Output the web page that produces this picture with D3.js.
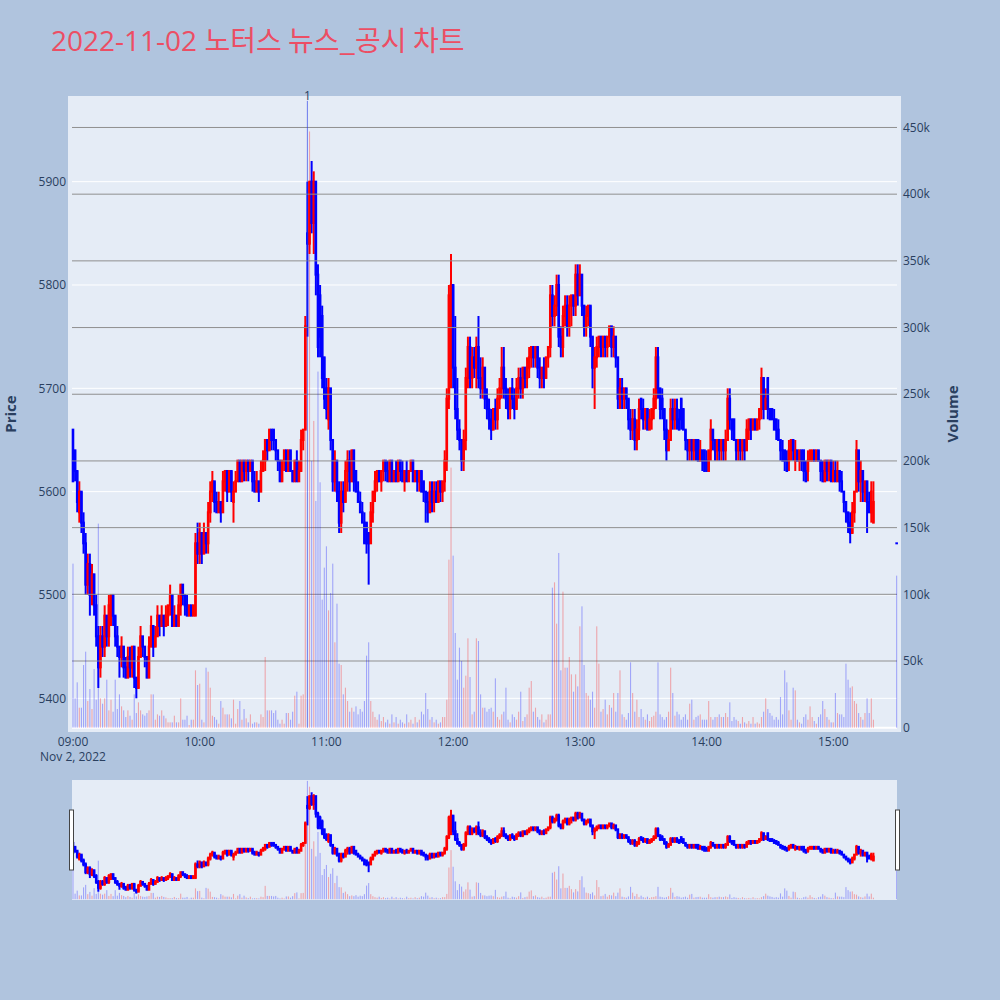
<!DOCTYPE html>
<html><head><meta charset="utf-8">
<script src="https://cdn.jsdelivr.net/npm/d3@7"></script>
<style>body{margin:0;background:#b0c4de;}svg{display:block;}</style>
</head><body>
<svg id="chart" width="1000" height="1000"></svg>
<script>
// ---- data: 1-minute candles 09:00 .. 15:19, plus 15:30 closing auction ----
const openPrices = [
5660,5640,5620,5580,5600,5570,5550,5510,5530,5500,
5520,5490,5460,5430,5460,5450,5480,5460,5490,5500,
5480,5460,5450,5440,5450,5430,5420,5440,5430,5450,
5420,5410,5440,5460,5450,5440,5420,5450,5470,5450,
5460,5480,5470,5480,5470,5480,5490,5500,5470,5480,
5470,5490,5510,5500,5490,5480,5490,5480,5480,5550,
5540,5560,5540,5560,5550,5580,5600,5610,5590,5580,
5590,5580,5610,5620,5600,5620,5590,5600,5610,5630,
5610,5630,5620,5630,5620,5630,5610,5600,5610,5600,
5620,5630,5650,5640,5660,5660,5650,5640,5630,5610,
5630,5640,5620,5640,5620,5610,5630,5610,5620,5650,
5660,5850,5840,5900,5860,5900,5810,5790,5770,5730,
5700,5670,5700,5650,5610,5630,5600,5570,5600,5590,
5620,5630,5610,5640,5620,5600,5590,5580,5570,5570,
5560,5550,5580,5600,5610,5620,5610,5620,5630,5620,
5610,5630,5610,5620,5610,5630,5620,5610,5620,5610,
5620,5630,5610,5620,5610,5620,5610,5600,5590,5580,
5600,5590,5600,5590,5610,5600,5610,5630,5690,5720,
5800,5720,5680,5660,5650,5630,5650,5710,5740,5710,
5730,5720,5740,5710,5700,5720,5690,5680,5670,5660,
5680,5670,5690,5700,5720,5700,5690,5680,5700,5690,
5680,5700,5710,5700,5720,5710,5720,5730,5740,5730,
5740,5720,5710,5720,5710,5730,5740,5790,5770,5780,
5800,5750,5740,5770,5780,5760,5780,5790,5780,5810,
5790,5810,5780,5760,5770,5780,5750,5720,5730,5740,
5750,5740,5750,5740,5750,5760,5740,5750,5730,5690,
5700,5690,5700,5690,5670,5660,5670,5650,5660,5690,
5680,5670,5680,5660,5670,5680,5690,5730,5700,5690,
5680,5660,5640,5650,5680,5670,5680,5670,5690,5680,
5660,5650,5640,5650,5640,5650,5650,5630,5640,5640,
5630,5620,5640,5660,5650,5640,5650,5640,5650,5640,
5650,5690,5670,5670,5650,5640,5650,5640,5650,5640,
5660,5670,5660,5670,5660,5670,5680,5710,5680,5710,
5680,5680,5670,5670,5660,5650,5640,5640,5630,5630,
5640,5650,5630,5640,5630,5640,5640,5620,5620,5630,
5630,5640,5630,5640,5630,5620,5610,5630,5620,5630,
5610,5620,5610,5620,5610,5600,5590,5580,5570,5560,
5580,5600,5640,5610,5620,5600,5610,5590,5580,5570,
5550];
const highPrices = [
5660,5640,5620,5610,5600,5580,5560,5540,5540,5530,
5520,5500,5470,5470,5470,5490,5480,5500,5500,5500,
5480,5470,5450,5460,5450,5440,5450,5450,5450,5450,
5420,5450,5470,5460,5450,5440,5460,5480,5470,5470,
5490,5480,5490,5480,5490,5490,5510,5500,5490,5480,
5500,5510,5510,5500,5500,5490,5490,5490,5560,5570,
5570,5560,5570,5560,5590,5610,5620,5610,5600,5600,
5590,5620,5620,5620,5620,5620,5610,5620,5630,5630,
5630,5630,5630,5630,5630,5630,5620,5620,5610,5630,
5640,5650,5650,5660,5660,5660,5650,5640,5630,5630,
5640,5640,5640,5640,5620,5630,5640,5630,5660,5660,
5770,5900,5900,5920,5910,5900,5820,5800,5780,5730,
5710,5710,5700,5650,5640,5630,5610,5610,5610,5630,
5640,5640,5640,5640,5620,5610,5600,5590,5580,5570,
5560,5590,5600,5620,5620,5620,5620,5630,5630,5630,
5630,5630,5620,5630,5630,5630,5630,5620,5630,5620,
5630,5630,5620,5620,5620,5620,5610,5600,5600,5610,
5610,5610,5610,5610,5610,5610,5640,5700,5800,5830,
5800,5770,5710,5670,5650,5660,5720,5750,5750,5740,
5740,5750,5770,5730,5730,5720,5700,5690,5680,5680,
5690,5700,5710,5740,5740,5710,5700,5700,5710,5700,
5710,5720,5720,5720,5720,5730,5740,5740,5740,5740,
5740,5730,5720,5730,5730,5740,5800,5800,5790,5810,
5810,5760,5780,5790,5790,5790,5790,5790,5820,5820,
5820,5810,5780,5780,5780,5780,5750,5740,5750,5750,
5750,5750,5750,5750,5760,5760,5760,5750,5730,5710,
5710,5700,5700,5690,5680,5680,5680,5670,5690,5690,
5690,5680,5680,5680,5680,5700,5740,5740,5700,5700,
5680,5670,5660,5690,5690,5690,5690,5680,5690,5680,
5660,5650,5650,5650,5650,5650,5650,5650,5640,5640,
5640,5640,5670,5660,5650,5650,5650,5650,5650,5660,
5700,5700,5670,5670,5650,5650,5650,5650,5650,5670,
5670,5670,5670,5670,5670,5680,5720,5710,5700,5710,
5680,5680,5680,5670,5670,5650,5650,5640,5640,5650,
5650,5650,5650,5640,5640,5640,5640,5630,5640,5640,
5640,5640,5640,5640,5630,5630,5630,5630,5630,5630,
5630,5630,5630,5620,5620,5600,5590,5580,5580,5590,
5600,5650,5640,5630,5620,5610,5610,5600,5610,5610,
5550];
const lowPrices = [
5610,5610,5580,5570,5560,5540,5500,5500,5480,5490,
5480,5450,5410,5420,5440,5440,5450,5450,5470,5470,
5450,5440,5420,5430,5420,5420,5420,5420,5420,5410,
5400,5410,5440,5440,5430,5420,5420,5450,5440,5450,
5460,5460,5470,5460,5470,5470,5480,5470,5470,5470,
5470,5480,5490,5480,5480,5480,5480,5480,5480,5530,
5530,5530,5540,5540,5540,5570,5590,5580,5580,5580,
5570,5580,5600,5590,5600,5590,5570,5600,5610,5610,
5610,5610,5610,5610,5620,5600,5600,5600,5590,5600,
5620,5620,5630,5640,5640,5640,5630,5620,5610,5610,
5620,5620,5620,5620,5610,5610,5610,5610,5620,5640,
5660,5750,5830,5850,5830,5790,5730,5730,5700,5680,
5670,5660,5640,5600,5600,5590,5560,5560,5580,5590,
5600,5600,5610,5600,5600,5590,5580,5570,5550,5540,
5510,5550,5570,5590,5600,5610,5600,5610,5610,5610,
5610,5610,5610,5610,5610,5610,5610,5600,5610,5610,
5620,5610,5610,5600,5600,5600,5590,5570,5570,5580,
5580,5580,5590,5590,5590,5590,5600,5620,5680,5700,
5700,5670,5650,5640,5620,5620,5640,5700,5700,5700,
5710,5700,5700,5690,5690,5680,5670,5660,5650,5660,
5660,5660,5680,5690,5690,5680,5670,5670,5680,5670,
5680,5690,5690,5690,5700,5700,5710,5720,5720,5720,
5710,5700,5700,5700,5710,5720,5730,5760,5760,5770,
5740,5730,5730,5760,5750,5750,5760,5770,5770,5780,
5790,5770,5750,5750,5760,5740,5700,5680,5720,5730,
5730,5730,5730,5730,5740,5730,5730,5720,5680,5680,
5680,5680,5680,5660,5650,5650,5640,5640,5650,5670,
5660,5660,5660,5660,5660,5670,5680,5690,5670,5670,
5650,5630,5640,5650,5660,5660,5660,5660,5660,5660,
5640,5630,5630,5630,5630,5630,5630,5630,5620,5620,
5620,5620,5630,5640,5630,5630,5630,5630,5630,5630,
5650,5660,5650,5650,5630,5630,5630,5630,5630,5640,
5650,5650,5660,5660,5660,5660,5670,5670,5680,5670,
5670,5670,5660,5650,5650,5630,5630,5620,5620,5620,
5630,5630,5620,5630,5620,5620,5610,5610,5610,5630,
5630,5630,5630,5630,5610,5610,5610,5610,5610,5610,
5610,5610,5610,5600,5600,5580,5570,5560,5550,5560,
5570,5600,5600,5590,5590,5590,5560,5580,5570,5570,
5550];
const closePrices = [
5610,5620,5590,5600,5570,5550,5510,5530,5500,5520,
5490,5460,5430,5460,5450,5480,5460,5490,5500,5480,
5460,5450,5440,5450,5430,5420,5440,5430,5450,5420,
5410,5440,5460,5450,5440,5420,5450,5470,5450,5460,
5480,5470,5480,5470,5480,5490,5500,5470,5480,5470,
5490,5510,5500,5490,5480,5490,5480,5490,5550,5540,
5560,5540,5560,5550,5580,5600,5610,5590,5580,5590,
5580,5610,5620,5600,5620,5600,5600,5610,5630,5610,
5630,5620,5630,5620,5630,5610,5600,5610,5600,5620,
5630,5650,5640,5660,5650,5650,5640,5630,5610,5630,
5640,5620,5640,5620,5610,5630,5610,5620,5650,5660,
5760,5840,5900,5860,5900,5810,5740,5750,5710,5690,
5680,5700,5650,5610,5630,5600,5570,5600,5590,5620,
5630,5610,5640,5610,5600,5590,5580,5570,5550,5550,
5550,5580,5600,5610,5620,5610,5620,5630,5620,5610,
5630,5610,5620,5610,5630,5620,5610,5620,5610,5620,
5630,5610,5620,5610,5620,5600,5600,5590,5580,5600,
5590,5600,5590,5610,5600,5610,5630,5690,5790,5800,
5720,5680,5660,5650,5630,5650,5710,5740,5710,5730,
5720,5740,5710,5700,5720,5690,5680,5670,5660,5680,
5670,5690,5700,5720,5700,5690,5680,5700,5690,5680,
5700,5710,5700,5720,5710,5720,5730,5740,5730,5740,
5720,5710,5720,5710,5730,5740,5790,5770,5780,5800,
5750,5740,5770,5780,5760,5780,5790,5780,5810,5790,
5810,5780,5760,5770,5780,5750,5720,5730,5740,5750,
5740,5750,5740,5750,5760,5740,5750,5730,5690,5700,
5690,5700,5690,5670,5660,5670,5650,5660,5680,5680,
5670,5680,5660,5670,5680,5690,5730,5700,5680,5680,
5660,5640,5650,5680,5670,5680,5670,5660,5670,5660,
5650,5640,5650,5640,5650,5640,5630,5640,5630,5620,
5620,5640,5660,5650,5640,5650,5640,5650,5640,5650,
5690,5670,5660,5650,5640,5650,5640,5650,5640,5660,
5670,5660,5670,5660,5670,5680,5710,5680,5690,5680,
5670,5670,5660,5660,5650,5640,5630,5630,5620,5640,
5650,5640,5640,5630,5640,5630,5620,5610,5630,5640,
5640,5630,5640,5630,5620,5610,5630,5620,5630,5610,
5620,5610,5620,5610,5600,5590,5580,5570,5560,5580,
5600,5640,5610,5620,5600,5610,5590,5580,5600,5590,
5550];
// volume in thousands of shares
const volumesK = [
123,22,34,15,15,47,57,20,29,14,
44,21,153,22,18,22,36,13,21,12,
36,14,25,16,13,8,13,9,6,25,
11,19,13,10,9,11,13,25,25,6,
10,9,13,9,7,4,4,4,9,4,
4,22,6,6,9,2,6,6,43,32,
33,6,4,45,42,30,9,8,6,3,
20,15,10,10,10,7,21,3,14,20,
6,14,7,4,10,3,4,4,3,10,
8,53,13,13,13,11,13,6,3,6,
3,11,11,6,12,24,27,3,24,25,
295,470,447,200,230,170,267,184,96,120,
136,88,101,123,64,93,48,47,25,30,
20,12,15,12,16,10,14,12,20,54,
64,20,12,8,6,10,5,8,4,6,
3,10,4,8,3,6,4,3,10,4,
6,3,8,4,6,12,10,26,14,6,
8,4,6,3,4,8,8,21,126,195,
129,71,36,60,50,30,39,67,38,10,
12,67,65,25,15,15,12,14,15,12,
37,8,6,10,12,30,6,4,10,8,
6,12,27,5,8,10,30,35,12,15,
8,6,10,4,6,10,10,105,109,78,
131,43,102,45,45,53,40,27,40,31,
76,91,47,26,24,21,27,15,76,48,
12,14,21,10,17,15,26,12,26,43,
10,8,6,11,49,26,12,21,8,14,
8,6,10,5,8,9,12,49,10,8,
6,8,12,45,26,9,12,10,6,8,
10,6,18,21,6,8,9,10,6,6,
6,20,8,6,8,8,10,8,8,11,
8,19,5,8,6,5,3,8,4,3,
5,3,8,3,4,3,8,12,22,14,
11,9,6,8,6,23,10,43,34,13,
6,30,28,6,4,3,8,10,6,16,
8,5,3,8,10,20,14,8,6,4,
4,26,11,10,10,8,48,36,30,31,
20,18,11,8,6,11,22,11,22,6,
114];
const priceTicks = [5400,5500,5600,5700,5800,5900];
const volumeTicks = [0,50000,100000,150000,200000,250000,300000,350000,400000,450000];
const hourTicks = ["09:00","10:00","11:00","12:00","13:00","14:00","15:00"];
const newsMarkers = [{time:"10:51", label:"1"}];
const titleDate = "2022-11-02 ";
const titleText = "노터스 뉴스_공시 차트";

// time categories
const sessionStart = new Date(2022,10,2,9,0);
const times = d3.range(380).map(i => d3.timeMinute.offset(sessionStart, i)).concat([new Date(2022,10,2,15,30)]);
const candles = times.map((t,i)=>({t, o:openPrices[i], h:highPrices[i], l:lowPrices[i], c:closePrices[i], v:volumesK[i]*1000}));
const parseHM = s => { const [h,m] = s.split(":").map(Number); return new Date(2022,10,2,h,m); };

const svg = d3.select("#chart");
const FONT = "'Open Sans', 'Noto Sans CJK KR', sans-serif";
const TXT = "#2a3f5f";
svg.append("rect").attr("width",1000).attr("height",1000).attr("fill","#b0c4de");

// title
const title = svg.append("text").attr("x",51).attr("y",51).attr("fill","#ec4e64").style("font-family",FONT);
title.append("tspan").attr("font-size",28).text(titleDate);
title.append("tspan").attr("font-size",28).style("font-family","'Noto Sans CJK KR', sans-serif").text(titleText);

const X0=72, X1=897, Y0=96, Y1=732;
const x = d3.scaleTime().domain([new Date(2022,10,2,8,59,32), new Date(2022,10,2,15,30,10)]).range([X0,X1]);
const yP = d3.scaleLinear().domain([5367.4,5982.9]).range([Y1,Y0]);
const yV = d3.scaleLinear().domain([-3225,473600]).range([Y1,Y0]);
const S0=780, S1=900;
const yPs = d3.scaleLinear().domain(yP.domain()).range([S1,S0]);
const yVs = d3.scaleLinear().domain(yV.domain()).range([S1,S0]);

const UP="#ff0000", DN="#0000ff";
const col = d => d.c > d.o ? UP : DN;
const volCol = d => d.c > d.o ? "rgba(255,0,0,0.3)" : "rgba(0,0,255,0.3)";

// plot background
svg.append("rect").attr("x",68).attr("y",Y0).attr("width",901-68).attr("height",Y1-Y0).attr("fill","#e5ecf6");

// price grid (white)
svg.append("g").selectAll("line").data(priceTicks).join("line")
  .attr("x1",X0).attr("x2",X1).attr("y1",d=>yP(d)).attr("y2",d=>yP(d))
  .attr("stroke","#fff").attr("stroke-width",1);

function drawCandles(g, ys){
  g.selectAll("line.w").data(candles).join("line").attr("class","w")
    .attr("x1",d=>x(d.t)).attr("x2",d=>x(d.t))
    .attr("y1",d=>ys(d.h)).attr("y2",d=>ys(d.l))
    .attr("stroke",col).attr("stroke-width",2);
  g.selectAll("rect.b").data(candles).join("rect").attr("class","b")
    .attr("x",d=>x(d.t)-1.3).attr("width",2.6)
    .attr("y",d=>Math.min(ys(d.o),ys(d.c))-1)
    .attr("height",d=>Math.abs(ys(d.o)-ys(d.c))+2)
    .attr("fill",col);
}
function drawVolume(g, ys){
  g.selectAll("rect").data(candles).join("rect")
    .attr("x",d=>x(d.t)-0.55).attr("width",1.1)
    .attr("y",d=>ys(d.v)).attr("height",d=>ys(0)-ys(d.v))
    .attr("fill",volCol);
}

drawCandles(svg.append("g"), yP);

// volume grid (gray) drawn above price trace, like an overlaying axis
svg.append("g").selectAll("line").data(volumeTicks.filter(v=>v>0)).join("line")
  .attr("x1",X0).attr("x2",X1).attr("y1",d=>yV(d)).attr("y2",d=>yV(d))
  .attr("stroke","#8f8f8f").attr("stroke-width",1);
svg.append("line").attr("x1",X0).attr("x2",X1).attr("y1",yV(0)).attr("y2",yV(0))
  .attr("stroke","#fff").attr("stroke-width",2);

drawVolume(svg.append("g"), yV);

// news marker
newsMarkers.forEach(n=>{
  const xm = x(parseHM(n.time));
  svg.append("line").attr("x1",xm).attr("x2",xm).attr("y1",101).attr("y2",yV(0))
    .attr("stroke","rgba(50,80,220,0.4)").attr("stroke-width",1);
  svg.append("text").attr("x",xm).attr("y",100).attr("text-anchor","middle")
    .attr("font-size",12).attr("fill",TXT).style("font-family",FONT).text(n.label);
});

// axes labels
svg.append("g").selectAll("text").data(priceTicks).join("text")
  .attr("x",66).attr("y",d=>yP(d)).attr("dy","0.35em").attr("text-anchor","end")
  .attr("font-size",12).attr("fill",TXT).style("font-family",FONT).text(d=>d);
const fmtV = d3.format("~s");
svg.append("g").selectAll("text").data(volumeTicks).join("text")
  .attr("x",903).attr("y",d=>yV(d)).attr("dy","0.35em").attr("text-anchor","start")
  .attr("font-size",12).attr("fill",TXT).style("font-family",FONT).text(d=>fmtV(d));
svg.append("g").selectAll("text").data(hourTicks).join("text")
  .attr("x",d=>x(parseHM(d))).attr("y",746).attr("text-anchor","middle")
  .attr("font-size",12).attr("fill",TXT).style("font-family",FONT).text(d=>d);
svg.append("text").attr("x",x(parseHM(hourTicks[0]))).attr("y",761).attr("text-anchor","middle")
  .attr("font-size",12).attr("fill",TXT).style("font-family",FONT).text("Nov 2, 2022");

svg.append("text").attr("transform","translate(16,414) rotate(-90)").attr("text-anchor","middle")
  .attr("font-size",15).attr("font-weight","bold").attr("fill",TXT).style("font-family",FONT).text("Price");
svg.append("text").attr("transform","translate(958,414) rotate(-90)").attr("text-anchor","middle")
  .attr("font-size",15).attr("font-weight","bold").attr("fill",TXT).style("font-family",FONT).text("Volume");

// range slider
svg.append("defs").append("clipPath").attr("id","sl").append("rect")
  .attr("x",X0).attr("y",S0).attr("width",X1-X0).attr("height",S1-S0);
svg.append("rect").attr("x",X0).attr("y",S0).attr("width",X1-X0).attr("height",S1-S0).attr("fill","#e5ecf6");
const sg = svg.append("g").attr("clip-path","url(#sl)");
drawCandles(sg.append("g"), yPs);
drawVolume(sg.append("g"), yVs);
[X0-2.5, X1-1.5].forEach(hx=>{
  svg.append("rect").attr("x",hx).attr("y",810).attr("width",4).attr("height",60)
    .attr("fill","#fff").attr("stroke","#444").attr("stroke-width",1);
});
</script>
</body></html>
